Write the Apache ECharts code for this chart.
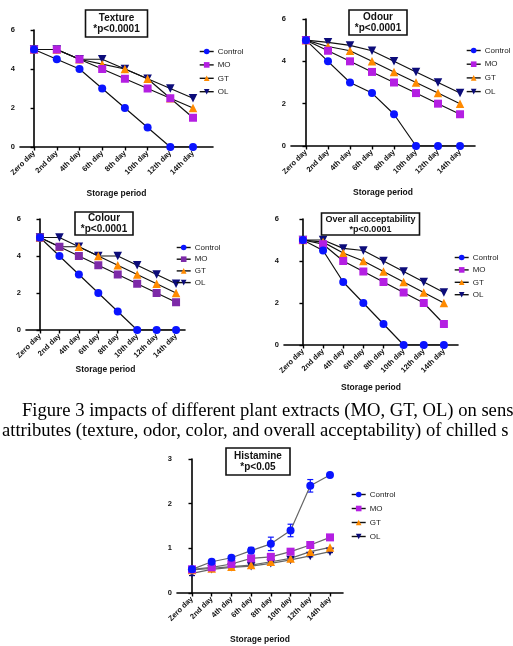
<!DOCTYPE html>
<html><head><meta charset="utf-8">
<script src="https://cdn.jsdelivr.net/npm/echarts@6/dist/echarts.min.js"></script>
<style>html,body{margin:0;padding:0;background:#fff;}#c{width:513px;height:646px;}</style>
</head><body><div id="c"></div>
<script>
// ---------- data ----------
const days = ['Zero day','2nd day','4th day','6th day','8th day','10th day','12th day','14th day'];
const groups = ['Control','MO','GT','OL'];

const textureControl = [5, 4.5, 4, 3, 2, 1, 0, 0];
const textureMO      = [5, 5, 4.5, 4, 3.5, 3, 2.5, 1.5];
const textureGT      = [5, 5, 4.5, 4.25, 4, 3.5, 2.5, 2];
const textureOL      = [5, 5, 4.5, 4.5, 4, 3.5, 3, 2.5];

const odourControl = [5, 4, 3, 2.5, 1.5, 0, 0, 0];
const odourMO      = [5, 4.5, 4, 3.5, 3, 2.5, 2, 1.5];
const odourGT      = [5, 4.7, 4.5, 4, 3.5, 3, 2.5, 2];
const odourOL      = [5, 4.9, 4.75, 4.5, 4, 3.5, 3, 2.5];

const colourControl = [5, 4, 3, 2, 1, 0, 0, 0];
const colourMO      = [5, 4.5, 4, 3.5, 3, 2.5, 2, 1.5];
const colourGT      = [5, 4.5, 4.5, 4, 3.5, 3, 2.5, 2];
const colourOL      = [5, 5, 4.5, 4, 4, 3.5, 3, 2.5];

const overallControl = [5, 4.5, 3, 2, 1, 0, 0, 0];
const overallMO      = [5, 4.8, 4, 3.5, 3, 2.5, 2, 1];
const overallGT      = [5, 4.9, 4.38, 4, 3.5, 3, 2.5, 2];
const overallOL      = [5, 5, 4.6, 4.5, 4, 3.5, 3, 2.5];

const histControl    = [0.53, 0.70, 0.79, 0.95, 1.10, 1.40, 2.40, 2.64];
const histControlErr = [0.04, 0.03, 0.03, 0.07, 0.15, 0.14, 0.14, 0.05];
const histMO         = [0.53, 0.575, 0.65, 0.775, 0.81, 0.925, 1.075, 1.245];
const histGT         = [0.515, 0.55, 0.59, 0.625, 0.70, 0.775, 0.925, 1.02];
const histOL         = [0.44, 0.53, 0.575, 0.60, 0.665, 0.74, 0.83, 0.925];
const histOLErr      = [0.05, 0.02, 0.02, 0.02, 0.02, 0.02, 0.02, 0.02];

const xName = 'Storage period';
const captionLines = [
  'Figure 3 impacts of different plant extracts (MO, GT, OL) on sens',
  'attributes (texture, odor, color, and overall acceptability) of chilled s'
];

// ---------- layout / styles ----------
const panels = [
  {title:'Texture\n*p<0.0001', data:[textureControl,textureMO,textureGT,textureOL],
   grid:{left:20, top:30, width:193, height:117}, xmin:-0.62, xmax:7.88, ymax:6,
   titlePos:{left:108.5, top:10}, tfs:10, tpad:[2,8,2,8], legendPos:{left:199, top:47.5}, legendGap:5.4, nameGap:42, mo:'#b41fe2', line:'#111'},
  {title:'Odour\n*p<0.0001', data:[odourControl,odourMO,odourGT,odourOL],
   grid:{left:291, top:19, width:184, height:127}, xmin:-0.68, xmax:7.68, ymax:6,
   titlePos:{left:372, top:10}, tfs:10, tpad:[1,6,1,6], legendPos:{left:466, top:46.5}, legendGap:5.7, nameGap:42, mo:'#b41fe2', line:'#111'},
  {title:'Colour\n*p<0.0001', data:[colourControl,colourMO,colourGT,colourOL],
   grid:{left:26, top:219, width:159, height:111}, xmin:-0.72, xmax:7.46, ymax:6,
   titlePos:{left:98, top:212}, tfs:10, tpad:[0,6,0,6], legendPos:{left:176, top:243.5}, legendGap:3.7, nameGap:35, mo:'#7d2aa8', line:'#111'},
  {title:'Over all acceptability\n*p<0.0001', data:[overallControl,overallMO,overallGT,overallOL],
   grid:{left:284, top:219, width:174, height:126}, xmin:-0.94, xmax:7.7, ymax:6,
   titlePos:{left:366.5, top:213}, tfs:9, tpad:[1,4,1,4], legendPos:{left:454, top:253.5}, legendGap:4.4, nameGap:38, mo:'#b41fe2', line:'#111'},
  {title:'Histamine\n*p<0.05', data:[histControl,histMO,histGT,histOL],
   grid:{left:177, top:459, width:166, height:134}, xmin:-0.76, xmax:7.66, ymax:3,
   titlePos:{left:250, top:448}, tfs:10, tpad:[2,8,2,8], legendPos:{left:351, top:490.5}, legendGap:6, nameGap:42, mo:'#b41fe2', line:'#666'}
];
const colors = {Control:'#0a14ff', GT:'#ff8a00', OL:'#0c0c7a'};
const symbols = {Control:{symbol:'circle', size:8, rot:0}, MO:{symbol:'rect', size:8, rot:0},
                 GT:{symbol:'triangle', size:8.5, rot:0}, OL:{symbol:'triangle', size:8.5, rot:180}};
const idx = [0,1,2,3,4,5,6,7];

const option = {backgroundColor:'#fff', animation:false, title:[], grid:[], xAxis:[], yAxis:[], legend:[], series:[], graphic:[]};
const axisLine = {show:true, lineStyle:{color:'#000', width:1.6}};
const font = 'Liberation Sans';

panels.forEach((p, k) => {
  option.grid.push(Object.assign({containLabel:false}, p.grid));
  option.xAxis.push({gridIndex:k, type:'value', min:p.xmin, max:p.xmax, name:xName, nameLocation:'middle', nameGap:p.nameGap,
    nameTextStyle:{fontFamily:font, fontWeight:'bold', fontSize:8.5, color:'#111'},
    axisLine:axisLine, splitLine:{show:false},
    axisTick:{show:true, customValues:idx, length:3.5, lineStyle:{color:'#000', width:1.4}},
    axisLabel:{customValues:idx, formatter:v => days[v], rotate:45, fontFamily:font, fontWeight:'bold', fontSize:7.5, color:'#111', margin:5}});
  option.yAxis.push({gridIndex:k, type:'value', min:0, max:p.ymax, interval:p.ymax/3,
    axisLine:axisLine, splitLine:{show:false},
    axisTick:{show:true, length:3.5, lineStyle:{color:'#000', width:1.4}},
    axisLabel:{fontFamily:font, fontWeight:'bold', fontSize:7.5, color:'#111', margin:5}});
  option.title.push({text:p.title, left:p.titlePos.left, top:p.titlePos.top, textAlign:'center',
    borderColor:'#111', borderWidth:1.6, padding:p.tpad, backgroundColor:'#fff',
    textStyle:{fontFamily:font, fontWeight:'bold', fontSize:p.tfs, lineHeight:p.tfs*1.15, color:'#111'}});
  const col = {Control:colors.Control, MO:p.mo, GT:colors.GT, OL:colors.OL};
  option.legend.push({orient:'vertical', left:p.legendPos.left, top:p.legendPos.top, itemWidth:14, itemHeight:7,
    itemGap:p.legendGap, selectedMode:false, padding:0,
    textStyle:{fontFamily:font, fontSize:8, color:'#222', padding:[0,0,0,-1]},
    data:groups.map(g => ({name:g, itemStyle:{color:col[g]}, lineStyle:{color:'#111', width:1.4}}))});
  if (k === 4) {
    const errSeries = (vals, errs, color) => ({type:'custom', xAxisIndex:k, yAxisIndex:k, silent:true, z:1,
      data: vals.map((v,i) => [i, v, errs[i]]),
      renderItem:(params, api) => {
        const x = api.value(0), y = api.value(1), e = api.value(2);
        const t = api.coord([x, y + e]), b = api.coord([x, y - e]);
        const hw = 3;
        const st = {stroke:color, lineWidth:1.2};
        return {type:'group', children:[
          {type:'line', shape:{x1:t[0], y1:t[1], x2:b[0], y2:b[1]}, style:st},
          {type:'line', shape:{x1:t[0]-hw, y1:t[1], x2:t[0]+hw, y2:t[1]}, style:st},
          {type:'line', shape:{x1:b[0]-hw, y1:b[1], x2:b[0]+hw, y2:b[1]}, style:st}]};
      }});
    option.series.push(errSeries(histOL, histOLErr, colors.OL));
    option.series.push(errSeries(histControl, histControlErr, colors.Control));
  }
  [3,2,1,0].forEach(j => {
    const g = groups[j];
    option.series.push({name:g, type:'line', xAxisIndex:k, yAxisIndex:k, z:2,
      data:p.data[j].map((v,i) => [i, v]),
      symbol:symbols[g].symbol, symbolSize:symbols[g].size, symbolRotate:symbols[g].rot,
      itemStyle:{color:col[g], borderWidth:0},
      lineStyle:{color:p.line, width:1.2}, emphasis:{disabled:true}});
  });
});

option.graphic.push({type:'text', silent:true, style:{x:22, y:411, text:captionLines[0], verticalAlign:'middle',
  font:'18.6px "Liberation Serif"', fill:'#000'}});
option.graphic.push({type:'text', silent:true, style:{x:2, y:431, text:captionLines[1], verticalAlign:'middle',
  font:'18.6px "Liberation Serif"', fill:'#000'}});

const chart = echarts.init(document.getElementById('c'), null, {renderer:'canvas'});
chart.setOption(option);
</script></body></html>
